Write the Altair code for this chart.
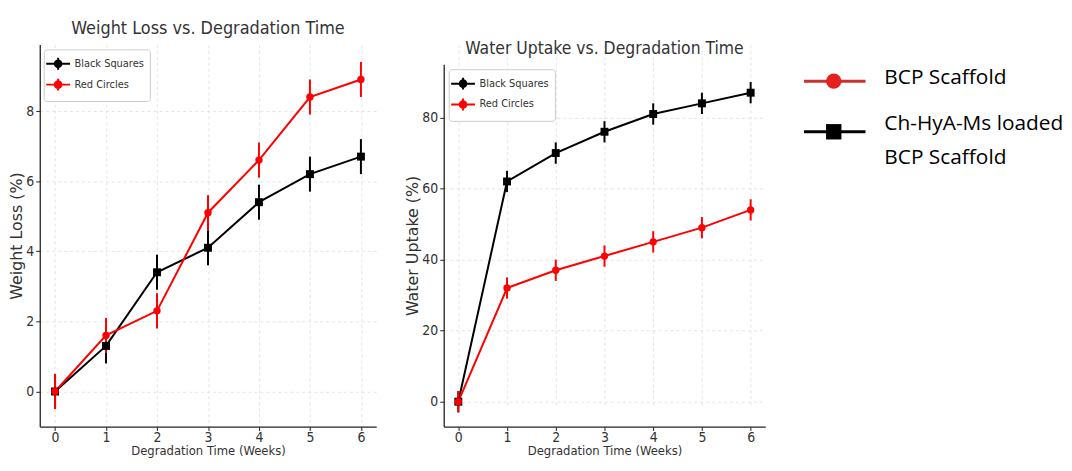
import altair as alt
import pandas as pd

weeks = [0, 1, 2, 3, 4, 5, 6]
series_names = ["Black Squares", "Red Circles"]
series_colors = ["#000000", "#ff0000"]
series_shapes = ["square", "circle"]

wl_black = [0.0, 1.3, 3.4, 4.1, 5.4, 6.2, 6.7]
wl_red = [0.0, 1.6, 2.3, 5.1, 6.6, 8.4, 8.9]
wl_err = [0.5, 0.5, 0.5, 0.5, 0.5, 0.5, 0.5]

wu_black = [0.0, 62.0, 70.0, 76.0, 81.0, 84.0, 87.0]
wu_red = [0.0, 32.0, 37.0, 41.0, 45.0, 49.0, 54.0]
wu_err = [3.0, 3.0, 3.0, 3.0, 3.0, 3.0, 3.0]

legend_labels = ["BCP Scaffold", "Ch-HyA-Ms loaded\nBCP Scaffold"]
legend_line_colors = ["#c8322f", "#000000"]
legend_marker_colors = ["#e5201e", "#000000"]
legend_shapes = ["circle", "square"]
legend_text_dy = [-14, -19]

FONT = "DejaVu Sans Condensed, DejaVu Sans"
FONT_ROT = "DejaVu Sans"
TXT = "#333333"

SYMBOL = ("M-1.6,0H1.6M0,-0.8V0.8"
          "M-0.45,0A0.45,0.45,0,1,1,0.45,0A0.45,0.45,0,1,1,-0.45,0Z")


def panel(black, red, err, title, ytitle, ydomain, yticks, w, h, yrange, lx, ly):
    df = pd.DataFrame({
        "week": weeks * 2,
        "value": black + red,
        "err": err + err,
        "series": [series_names[0]] * len(weeks) + [series_names[1]] * len(weeks),
    })
    df["lo"] = df["value"] - df["err"]
    df["hi"] = df["value"] + df["err"]

    color = alt.Color(
        "series:N",
        scale=alt.Scale(domain=series_names, range=series_colors),
        legend=alt.Legend(
            title=None, orient="none", legendX=lx, legendY=ly, padding=6,
            strokeColor="#cccccc", fillColor="white", cornerRadius=3,
            labelFont=FONT, labelFontSize=11, labelColor=TXT,
            symbolType=SYMBOL, symbolSize=225, symbolStrokeWidth=2,
            rowPadding=0, labelOffset=8,
        ),
    )
    x = alt.X(
        "week:Q",
        scale=alt.Scale(domain=[-0.3, 6.3], nice=False, zero=False),
        axis=alt.Axis(values=weeks, title="Degradation Time (Weeks)", format="d"),
    )
    y = alt.Y(
        "value:Q",
        scale=alt.Scale(domain=ydomain, nice=False, zero=False, range=yrange),
        axis=alt.Axis(values=yticks, title=ytitle, format="d"),
    )
    base = alt.Chart(df)
    line = base.mark_line(strokeWidth=2).encode(x=x, y=y, color=color)
    bars = base.mark_rule(strokeWidth=2).encode(x="week:Q", y="lo:Q", y2="hi:Q", color=color)
    layers = [line, bars]
    for name, shape, size in zip(series_names, series_shapes, [64, 55]):
        layers.append(
            base.transform_filter(alt.datum.series == name)
            .mark_point(filled=True, size=size, opacity=1, shape=shape)
            .encode(x=x, y=y, color=color)
        )
    return alt.layer(*layers).properties(width=w, height=h, title=title)


left = panel(
    wl_black, wl_red, wl_err,
    alt.Title("Weight Loss vs. Degradation Time", fontSize=18, font=FONT, color=TXT,
              fontWeight="normal", offset=7),
    "Weight Loss (%)", [-1.0, 9.9], [0, 2, 4, 6, 8], 339, 385, [385, 0], 4, 5,
)
right = panel(
    wu_black, wu_red, wu_err,
    alt.Title("Water Uptake vs. Degradation Time", fontSize=17.5, font=FONT, color=TXT,
              fontWeight="normal", offset=7, dy=20),
    "Water Uptake (%)", [-7.0, 95.0], [0, 20, 40, 60, 80], 324, 385, [385, 20], 5, 25,
)

leg_df = pd.DataFrame({
    "order": [0, 1],
    "label": legend_labels,
    "lcolor": legend_line_colors,
    "mcolor": legend_marker_colors,
    "shape": legend_shapes,
    "dy": legend_text_dy,
})
ly = alt.Y("order:O", axis=None, scale=alt.Scale(type="point", padding=0.725))
lb = alt.Chart(leg_df)
leg_line = lb.mark_rule(strokeWidth=3).encode(
    y=ly, x=alt.value(11), x2=alt.value(73), color=alt.Color("lcolor:N", scale=None))
leg_pt = lb.mark_point(filled=True, opacity=1, size=240).encode(
    y=ly, x=alt.value(41), color=alt.Color("mcolor:N", scale=None),
    shape=alt.Shape("shape:N", scale=None))
leg_layers = [leg_line, leg_pt]
for i, d in enumerate(legend_text_dy):
    leg_layers.append(
        lb.transform_filter(alt.datum.order == i)
        .mark_text(align="left", baseline="top", dy=d, fontSize=21,
                   font="Open Sans", lineBreak="\n", lineHeight=34, color="#000000")
        .encode(y=ly, x=alt.value(92), text="label:N")
    )
legend_panel = alt.layer(*leg_layers).properties(width=265, height=125)

chart = alt.hconcat(left, right, legend_panel, spacing=28).resolve_scale(
    color="independent"
).resolve_legend(color="independent").properties(
    padding={"left": 0, "top": 10, "right": 0, "bottom": 0}
).configure_view(stroke=None).configure_axis(
    labelFont=FONT, labelFontSize=14, labelColor=TXT,
    titleFont=FONT, titleFontSize=13, titleColor=TXT, titleFontWeight="normal",
    domainColor="#222222", domainWidth=1.3, tickColor="#222222", tickSize=4,
    labelPadding=2, gridColor="#dddddd", gridDash=[3, 3], gridWidth=0.8,
).configure_axisY(titleFont=FONT_ROT, titleFontSize=16, titlePadding=1).configure_axisX(
    titlePadding=0, labelPadding=0)

chart.save("out.html", embed_options={"renderer": "svg", "actions": False})
